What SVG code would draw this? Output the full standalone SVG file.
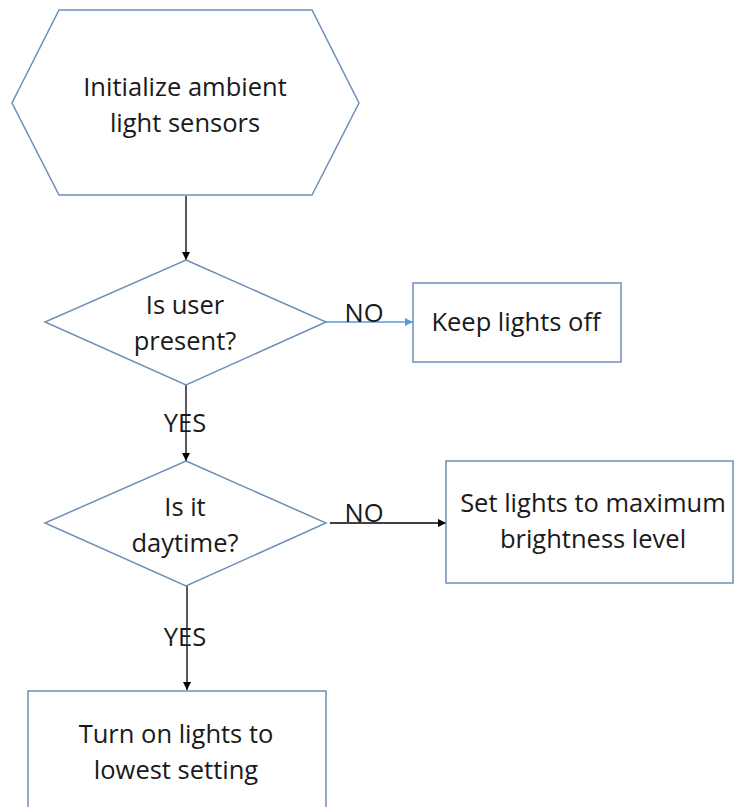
<svg xmlns="http://www.w3.org/2000/svg" width="734" height="807" viewBox="0 0 734 807">
<style>
.shape{fill:#fff;stroke:#6d8fb8;stroke-width:1.5}
.t{font-family:"Open Sans","Liberation Sans",sans-serif;font-size:25.5px;fill:#1a1a1a;text-anchor:middle}
.c{fill:none;stroke:#000;stroke-width:1.3}
.cb{fill:none;stroke:#5b9bd5;stroke-width:1.5}
</style>
<defs>
<marker id="ah" viewBox="0 0 10 10" refX="10" refY="5" markerWidth="8" markerHeight="8" markerUnits="userSpaceOnUse" orient="auto"><path d="M0,0L10,5L0,10z" fill="#000"/></marker>
<marker id="ahb" viewBox="0 0 10 10" refX="10" refY="5" markerWidth="8" markerHeight="8" markerUnits="userSpaceOnUse" orient="auto"><path d="M0,0L10,5L0,10z" fill="#5b9bd5"/></marker>
</defs>
<rect width="734" height="807" fill="#fff"/>
<g id="connectors">
<line class="c" x1="186" y1="196" x2="186" y2="260" marker-end="url(#ah)"/>
<line class="cb" x1="326" y1="322" x2="413" y2="322" marker-end="url(#ahb)"/>
<line class="c" x1="186" y1="385" x2="186" y2="461" marker-end="url(#ah)"/>
<line class="c" x1="330" y1="523" x2="446" y2="523" marker-end="url(#ah)"/>
<line class="c" x1="187" y1="586" x2="187" y2="690" marker-end="url(#ah)"/>
<text class="t" x="364" y="322">NO</text>
<text class="t" x="185" y="432">YES</text>
<text class="t" x="364" y="522">NO</text>
<text class="t" x="185" y="646">YES</text>
</g>
<g id="init">
<polygon class="shape" points="59,10 312,10 359,103 312,195 59,195 12,103"/>
<text class="t" x="185" y="96">Initialize ambient</text>
<text class="t" x="185" y="132">light sensors</text>
</g>
<g id="user-present">
<polygon class="shape" points="186,260 326,322 186,385 45,322"/>
<text class="t" x="185" y="314">Is user</text>
<text class="t" x="185" y="350">present?</text>
</g>
<g id="keep-off">
<rect class="shape" x="413" y="283" width="208" height="79"/>
<text class="t" x="516" y="331">Keep lights off</text>
</g>
<g id="daytime">
<polygon class="shape" points="186,461 326,523 186,586 45,523"/>
<text class="t" x="185" y="516">Is it</text>
<text class="t" x="185" y="552">daytime?</text>
</g>
<g id="max">
<rect class="shape" x="446" y="461" width="287" height="122"/>
<text class="t" x="593" y="512">Set lights to maximum</text>
<text class="t" x="593" y="548">brightness level</text>
</g>
<g id="lowest">
<rect class="shape" x="28" y="691" width="298" height="130"/>
<text class="t" x="176" y="743">Turn on lights to</text>
<text class="t" x="176" y="779">lowest setting</text>
</g>
</svg>
